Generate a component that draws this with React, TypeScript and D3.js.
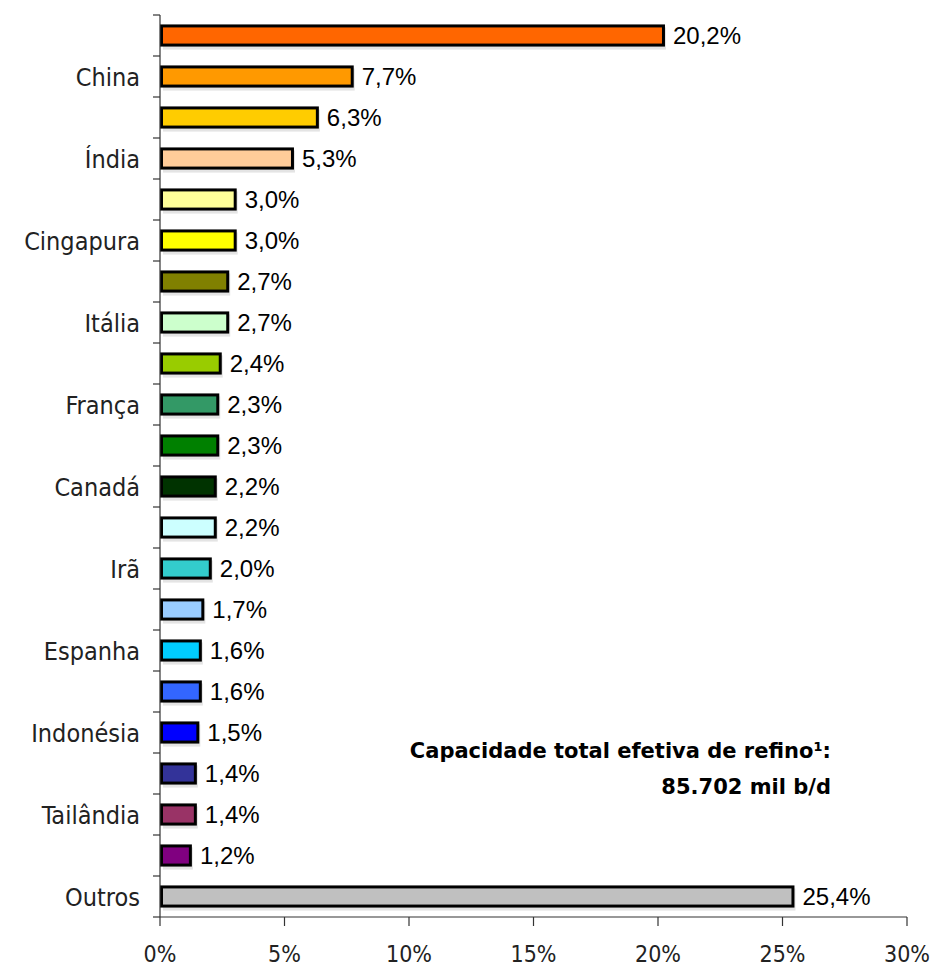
import React from "react";
import * as d3 from "d3";

const categories = [
  "", "China", "", "Índia", "", "Cingapura", "", "Itália", "", "França", "",
  "Canadá", "", "Irã", "", "Espanha", "", "Indonésia", "", "Tailândia", "", "Outros",
];
const values = [
  20.2, 7.7, 6.3, 5.3, 3.0, 3.0, 2.7, 2.7, 2.4, 2.3, 2.3,
  2.2, 2.2, 2.0, 1.7, 1.6, 1.6, 1.5, 1.4, 1.4, 1.2, 25.4,
];
const colors = [
  "#FF6600", "#FF9900", "#FFCC00", "#FFCC99", "#FFFF99", "#FFFF00", "#808000",
  "#CCFFCC", "#99CC00", "#339966", "#008000", "#003300", "#CCFFFF", "#33CCCC",
  "#99CCFF", "#00CCFF", "#3366FF", "#0000FF", "#333399", "#993366", "#800080", "#C0C0C0",
];
const xTicks = [0, 5, 10, 15, 20, 25, 30];
const noteLines = ["Capacidade total efetiva de refino¹:", "85.702 mil b/d"];

const W = 933;
const H = 966;
const left = 160;
const right = 907;
const top = 15;
const bottom = 917;

export default function App() {
  const x = d3.scaleLinear().domain([0, 30]).range([left, right]);
  const idx = categories.map((_, i) => String(i));
  const y = d3.scaleBand().domain(idx).range([top, bottom]).paddingInner(0.46).paddingOuter(0.23);
  const bw = y.bandwidth();
  const fmt = (v: number) => v.toFixed(1).replace(".", ",") + "%";
  const boundaries = d3.range(categories.length + 1).map((i) => top + i * ((bottom - top) / categories.length));
  const catFont = "'DejaVu Sans Condensed', 'DejaVu Sans', sans-serif";
  const valFont = "'Liberation Sans Narrow', 'Liberation Sans', Arial, sans-serif";

  return (
    <svg width={W} height={H} style={{ position: "absolute", left: 0, top: 0, background: "#fff" }}>
      <rect x={0} y={0} width={W} height={H} fill="#fff" />
      {values.map((v, i) => {
        const yy = (y(String(i)) as number);
        return (
          <g key={i}>
            <rect x={x(0) + 3} y={yy + 3} width={x(v) - x(0)} height={bw} fill="#e4e4e4" />
            <rect
              x={x(0) + 1.5}
              y={yy + 1.5}
              width={x(v) - x(0) - 1}
              height={bw - 3}
              fill={colors[i]}
              stroke="#000"
              strokeWidth={3}
            />
            <text
              x={x(v) + 10}
              y={yy + bw / 2}
              dy="0.35em"
              fontFamily={valFont}
              fontSize={24}
              fill="#000"
            >
              {fmt(v)}
            </text>
            {categories[i] && (
              <text
                x={140}
                y={yy + bw / 2}
                dy="0.36em"
                textAnchor="end"
                fontFamily={catFont}
                fontSize={25}
                fill="#222"
              >
                {categories[i]}
              </text>
            )}
          </g>
        );
      })}
      {/* y axis */}
      <line x1={left} x2={left} y1={top} y2={bottom} stroke="#333" strokeWidth={1.2} />
      {boundaries.map((b, i) => (
        <line key={i} x1={left - 7} x2={left} y1={b} y2={b} stroke="#333" strokeWidth={1.2} />
      ))}
      {/* x axis */}
      <line x1={left} x2={right} y1={bottom} y2={bottom} stroke="#333" strokeWidth={1.2} />
      {xTicks.map((t) => (
        <g key={t}>
          <line x1={x(t)} x2={x(t)} y1={bottom} y2={bottom + 9} stroke="#333" strokeWidth={1.2} />
          <text
            x={x(t)}
            y={954}
            dy="0.36em"
            textAnchor="middle"
            fontFamily={catFont}
            fontSize={23}
            fill="#222"
          >
            {t + "%"}
          </text>
        </g>
      ))}
      <text
        textAnchor="end"
        fontFamily="'DejaVu Sans', sans-serif"
        fontWeight="bold"
        fontSize={21}
        fill="#000"
      >
        <tspan x={831} y={758}>{noteLines[0]}</tspan>
        <tspan x={831} y={794}>{noteLines[1]}</tspan>
      </text>
    </svg>
  );
}
